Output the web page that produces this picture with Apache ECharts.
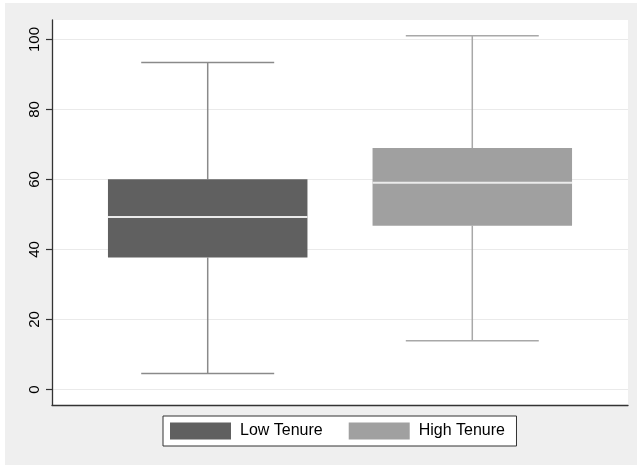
<!DOCTYPE html>
<html>
<head>
<meta charset="utf-8">
<script src="https://cdn.jsdelivr.net/npm/echarts@6/dist/echarts.min.js"></script>
<style>
html,body{margin:0;padding:0;background:#ffffff;}
#main{width:638px;height:466px;}
</style>
</head>
<body>
<div id="main"></div>
<script>
// ---- data ----
var categories = ['Low Tenure', 'High Tenure'];
var lowWhisker = [4.6, 13.9];
var q1 = [37.7, 46.8];
var median = [49.3, 59.1];
var q3 = [60.1, 69.0];
var highWhisker = [93.4, 101.1];
var yTicks = [0, 20, 40, 60, 80, 100];

var fills = ['#606060', '#a0a0a0'];
var whiskerColors = ['#8a8a8a', '#a8a8a8'];

var chart = echarts.init(document.getElementById('main'), null, {renderer: 'canvas'});

function renderBox(params, api) {
  var x = api.value(0);
  var idx = x - 1;
  var pLow = api.coord([x, api.value(1)]);
  var pQ1 = api.coord([x, api.value(2)]);
  var pMed = api.coord([x, api.value(3)]);
  var pQ3 = api.coord([x, api.value(4)]);
  var pHigh = api.coord([x, api.value(5)]);
  var boxHalf = api.size([0.377, 0])[0];
  var capHalf = api.size([0.2513, 0])[0];
  var cx = pMed[0];
  var wStyle = {stroke: whiskerColors[idx], lineWidth: 1.5};
  return {
    type: 'group',
    children: [
      {type: 'line', shape: {x1: cx, y1: pLow[1], x2: cx, y2: pQ1[1]}, style: wStyle},
      {type: 'line', shape: {x1: cx, y1: pQ3[1], x2: cx, y2: pHigh[1]}, style: wStyle},
      {type: 'line', shape: {x1: cx - capHalf, y1: pLow[1], x2: cx + capHalf, y2: pLow[1]}, style: wStyle},
      {type: 'line', shape: {x1: cx - capHalf, y1: pHigh[1], x2: cx + capHalf, y2: pHigh[1]}, style: wStyle},
      {type: 'rect', shape: {x: cx - boxHalf, y: pQ3[1], width: boxHalf * 2, height: pQ1[1] - pQ3[1]}, style: {fill: fills[idx]}},
      {type: 'line', shape: {x1: cx - boxHalf, y1: pMed[1], x2: cx + boxHalf, y2: pMed[1]}, style: {stroke: '#ebebeb', lineWidth: 2}}
    ]
  };
}

var series = categories.map(function (name, i) {
  return {
    name: name,
    type: 'custom',
    xAxisIndex: 1,
    yAxisIndex: 1,
    itemStyle: {color: fills[i]},
    encode: {x: 0, y: [1, 2, 3, 4, 5]},
    renderItem: renderBox,
    data: [[i + 1, lowWhisker[i], q1[i], median[i], q3[i], highWhisker[i]]]
  };
});

var option = {
  animation: false,
  backgroundColor: '#ffffff',
  graphic: [{
    type: 'rect', z: -10, silent: true,
    shape: {x: 5, y: 3, width: 632, height: 462},
    style: {fill: '#efefef'}
  }],
  grid: [
    {left: 52, top: 20, width: 576, height: 385, show: true, backgroundColor: '#ffffff', borderWidth: 0},
    {left: 52, top: 39.5, width: 576, height: 350}
  ],
  xAxis: [
    {gridIndex: 0, type: 'value', min: 0, max: 1,
     axisLine: {show: true, onZero: false, lineStyle: {color: '#333333', width: 1.3}},
     axisTick: {show: false}, axisLabel: {show: false}, splitLine: {show: false}},
    {gridIndex: 1, type: 'value', min: 0.4115, max: 2.5885, show: false,
     splitLine: {show: false}}
  ],
  yAxis: [
    {gridIndex: 0, type: 'value', min: 0, max: 1,
     axisLine: {show: true, onZero: false, lineStyle: {color: '#333333', width: 1.3}},
     axisTick: {show: false}, axisLabel: {show: false}, splitLine: {show: false}},
    {gridIndex: 1, type: 'value', min: yTicks[0], max: yTicks[yTicks.length - 1], interval: 20,
     axisLine: {show: false},
     axisTick: {show: true, length: 6, lineStyle: {color: '#333333', width: 1.2}},
     axisLabel: {show: true, rotate: 90, margin: 10, fontSize: 15, color: '#000000',
                 fontFamily: 'Liberation Sans, Arial, sans-serif'},
     splitLine: {show: true, lineStyle: {color: '#eaeaea', width: 1.2}}}
  ],
  legend: {
    left: 163, top: 416,
    orient: 'horizontal',
    padding: [6.5, 11.5, 6.5, 7],
    itemWidth: 61, itemHeight: 17, itemGap: 26,
    icon: 'rect',
    borderColor: '#333333', borderWidth: 1, backgroundColor: '#ffffff',
    textStyle: {fontSize: 16, color: '#000000', fontFamily: 'Liberation Sans, Arial, sans-serif', padding: [0, 0, 0, 4]},
    data: categories
  },
  series: series
};
chart.setOption(option);
</script>
</body>
</html>
